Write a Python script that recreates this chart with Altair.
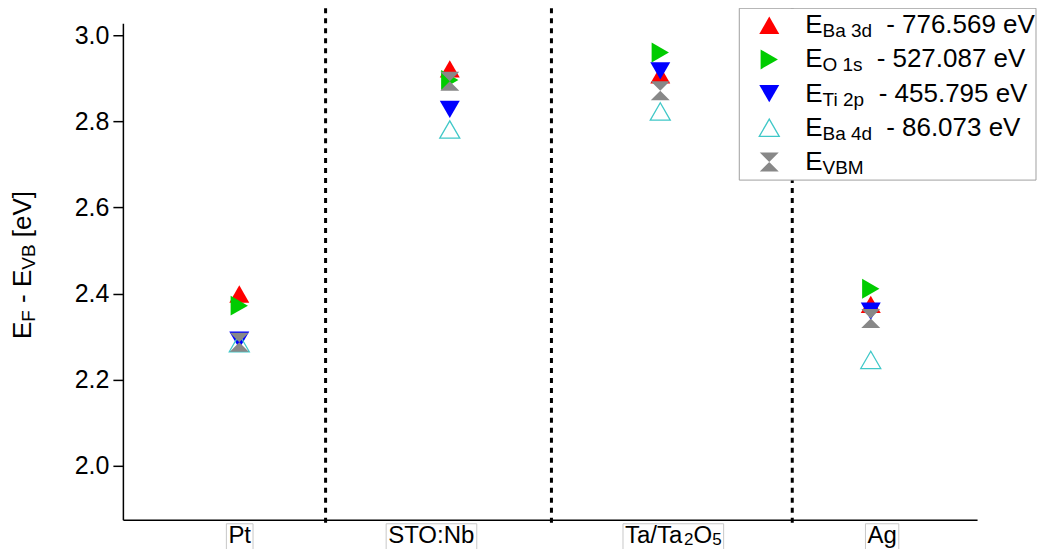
import altair as alt
import pandas as pd

# ---------------- data ----------------
samples = ["Pt", "STO:Nb", "Ta/Ta2O5", "Ag"]
label_parts = [
    [("Pt", 0)],
    [("STO:Nb", 0)],
    [("Ta/Ta", 0), ("2", 1), ("O", 0), ("5", 1)],
    [("Ag", 0)],
]
sample_x = [0.5, 1.5, 2.5, 3.5]
label_x = [0.502, 1.413, 2.562, 3.554]
divider_x = [0.910, 1.983, 3.127]

series_sub = ["Ba 3d", "O 1s", "Ti 2p", "Ba 4d", "VBM"]
series_rest = ["- 776.569 eV", "- 527.087 eV", "- 455.795 eV", "- 86.073 eV", ""]

e_ba3d = [2.399, 2.922, 2.908, 2.375]
e_o1s = [2.372, 2.896, 2.960, 2.411]
e_ti2p = [2.292, 2.828, 2.917, 2.359]
e_ba4d = [2.285, 2.781, 2.823, 2.246]
e_vbm = [2.287, 2.893, 2.871, 2.342]

y_ticks = [2.0, 2.2, 2.4, 2.6, 2.8, 3.0]

# ---------------- layout / style ----------------
FONT = "Liberation Sans"
PLOT_W, PLOT_H = 855, 497
X_DOM = [-0.053, 4.005]
Y_DOM = [1.8747, 3.0278]
PX_PER_X = PLOT_W / (X_DOM[1] - X_DOM[0])

RED, GREEN, BLUE, CYAN, GRAY = "#ff0000", "#00cc00", "#0000ff", "#40c8c8", "#888888"
HOURGLASS = "M-1,-1L1,-1L-1,1L1,1Z"

ARIAL = {
    " ": .278, "-": .333, ".": .278, "/": .278, ":": .278, "[": .278, "]": .278,
    "A": .667, "B": .667, "E": .667, "F": .611, "M": .833, "N": .722, "O": .778,
    "P": .667, "S": .667, "T": .611, "V": .667,
    "a": .556, "b": .556, "d": .556, "e": .556, "g": .556, "i": .222, "p": .556,
    "s": .5, "t": .278,
}
KERN = {"Ta": -0.074}


def tw(s, size):
    w = sum(ARIAL.get(c, 0.556) for c in s)
    w += sum(KERN.get(s[j:j + 2], 0) for j in range(len(s) - 1))
    return w * size


def compose(parts, main_fs, sub_fs):
    """Split pieces into (offset, text, is_sub) with leading spaces turned into offsets."""
    out, off = [], 0.0
    for s, k in parts:
        fs = sub_fs if k else main_fs
        stripped = s.lstrip(" ")
        off += tw(s[: len(s) - len(stripped)], fs)
        out.append((off, stripped, k))
        off += tw(stripped, fs)
    return out, off


xs = alt.Scale(domain=X_DOM, nice=False, zero=False)
ys = alt.Scale(domain=Y_DOM, nice=False, zero=False)
x_axis = alt.Axis(title=None, labels=False, ticks=False, grid=False, domain=True,
                  domainColor="black", domainWidth=1.5)
y_axis = alt.Axis(title=None, values=y_ticks, format=".1f", grid=False, ticks=True,
                  tickSize=10, tickWidth=1.5, tickColor="black", domainColor="black",
                  domainWidth=1.5, labelFont=FONT, labelFontSize=25,
                  labelColor="black", labelPadding=4)

layers = []

# dotted separators
div_df = pd.DataFrame({"x": divider_x})
layers.append(
    alt.Chart(div_df).mark_rule(color="black", strokeWidth=3, strokeDash=[5, 5], clip=False)
    .encode(x=alt.X("x:Q", scale=xs, axis=x_axis), y=alt.value(-15), y2=alt.value(PLOT_H + 4))
)

# data points
series_specs = [
    (e_ba3d, "triangle-up", RED, True, 400),
    (e_o1s, "triangle-right", GREEN, True, 400),
    (e_ti2p, "triangle-down", BLUE, True, 400),
    (e_ba4d, "triangle-up", CYAN, False, 400),
    (e_vbm, HOURGLASS, GRAY, True, 360),
]
for vals, shape, color, filled, size in series_specs:
    df = pd.DataFrame({"x": sample_x, "v": vals})
    layers.append(
        alt.Chart(df).mark_point(shape=shape, color=color, filled=filled, opacity=1,
                                 size=size, strokeWidth=1.3)
        .encode(x=alt.X("x:Q", scale=xs, axis=x_axis), y=alt.Y("v:Q", scale=ys, axis=y_axis))
    )

# legend
LEG_BOX = (617, -15, 914, 157)
LEG_MX, LEG_Y0, LEG_DY = 647, 2, 34.2
LEG_TX = 683
MAIN_FS, SUB_FS = 26, 19
one = pd.DataFrame({"a": [0]})
layers.append(
    alt.Chart(one).mark_rect(fill="white", stroke="#a0a0a0", strokeWidth=1)
    .encode(x=alt.value(LEG_BOX[0]), x2=alt.value(LEG_BOX[2]),
            y=alt.value(LEG_BOX[1]), y2=alt.value(LEG_BOX[3]))
)
main_rows, sub_rows = [], []
for i, (vals, shape, color, filled, size) in enumerate(series_specs):
    ly = LEG_Y0 + i * LEG_DY
    layers.append(
        alt.Chart(one).mark_point(shape=shape, color=color, filled=filled, opacity=1,
                                  size=size, strokeWidth=1.3)
        .encode(x=alt.value(LEG_MX), y=alt.value(ly))
    )
    main_rows.append({"px": LEG_TX, "py": ly + 8, "t": "E"})
    sx = LEG_TX + tw("E", MAIN_FS)
    sub_rows.append({"px": sx, "py": ly + 12, "t": series_sub[i]})
    if series_rest[i]:
        main_rows.append({"px": sx + tw(series_sub[i], SUB_FS) + 14, "py": ly + 8,
                          "t": series_rest[i]})


def pix_text(rows, size, angle=0):
    return alt.Chart(pd.DataFrame(rows)).mark_text(
        font=FONT, fontSize=size, align="left", baseline="alphabetic", color="black",
        angle=angle, clip=False
    ).encode(x=alt.X("px:Q", scale=None, axis=None), y=alt.Y("py:Q", scale=None, axis=None),
             text="t:N")


layers.append(pix_text(main_rows, MAIN_FS))
layers.append(pix_text(sub_rows, SUB_FS))

# y title  E_F - E_VB [eV]  (rotated, composed)
T_MAIN, T_SUB = 26, 19
T_BASE_X = -92
title_parts = [("E", 0), ("F", 1), (" - E", 0), ("VB", 1), (" [eV]", 0)]
pieces, tot = compose(title_parts, T_MAIN, T_SUB)
y0 = 242 + tot / 2
t_main, t_sub = [], []
for off, s, k in pieces:
    if k:
        t_sub.append({"px": T_BASE_X + 4, "py": y0 - off, "t": s})
    else:
        t_main.append({"px": T_BASE_X, "py": y0 - off, "t": s})
layers.append(pix_text(t_main, T_MAIN, angle=270))
layers.append(pix_text(t_sub, T_SUB, angle=270))

# x category labels (composed, boxed)
L_MAIN, L_SUB = 24, 17
lab_main, lab_sub, boxes = [], [], []
for cx, parts in zip(label_x, label_parts):
    pieces, tot = compose(parts, L_MAIN, L_SUB)
    for off, s, k in pieces:
        row = {"xd": cx + (off - tot / 2) / PX_PER_X, "py": PLOT_H + (25 if k else 23), "t": s}
        (lab_sub if k else lab_main).append(row)
    boxes.append({"x1": cx - (tot / 2 + 2) / PX_PER_X, "x2": cx + (tot / 2 + 2) / PX_PER_X})

layers.append(
    alt.Chart(pd.DataFrame(boxes)).mark_rect(fill=None, stroke="#c8c8c8", strokeWidth=1, clip=False)
    .encode(x=alt.X("x1:Q", scale=xs, axis=x_axis), x2="x2:Q",
            y=alt.value(PLOT_H + 4), y2=alt.value(PLOT_H + 40))
)
for rows, fs in ((lab_main, L_MAIN), (lab_sub, L_SUB)):
    layers.append(
        alt.Chart(pd.DataFrame(rows)).mark_text(font=FONT, fontSize=fs, align="left",
                                                baseline="alphabetic", color="black", clip=False)
        .encode(x=alt.X("xd:Q", scale=xs, axis=x_axis),
                y=alt.Y("py:Q", scale=None, axis=None), text="t:N")
    )

chart = alt.layer(*layers).properties(
    width=PLOT_W, height=PLOT_H,
    autosize=alt.AutoSizeParams(type="none"),
    padding={"left": 115, "top": 15, "right": 60, "bottom": 29},
).configure_view(stroke=None)

chart.save("out.html", embed_options={"renderer": "svg", "actions": False})
